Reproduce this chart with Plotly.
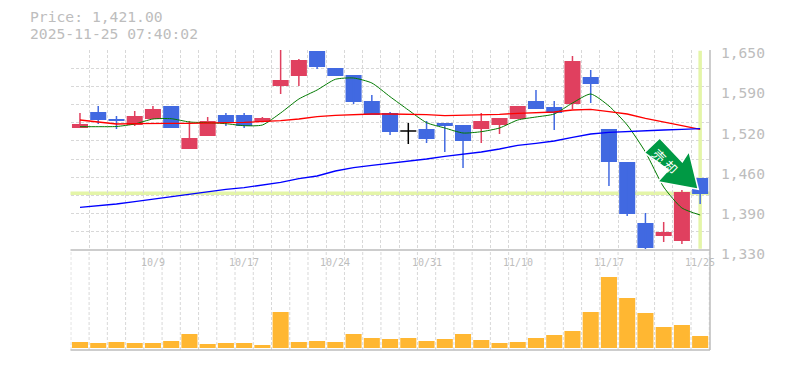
import plotly.graph_objects as go

def p(y):
    return round(1650 - (y - 50) * 1.6, 1)

colors = "r b b r r b r r b b r r r b b b b b k b b b r r r b b r b b b b r r b".split()
body_top = [124,112,119,116,109,106,138,121,115,115,118,80,60,51,68,75,101,113,131,129,123,125,121,118,106,101,107,61,77,129,162,223,232,192,178]
body_bot = [128,120,121,125,119,128,149,136,123,126,122,86,76,67,76,102,115,132,131,139,126,141,129,125,119,109,113,104,84,162,214,248,236,241,194]
wick_top = [113,106,116,111,106,106,121,117,113,113,117,50,59,51,68,75,95,112,123,121,123,125,113,118,106,90,101,56,70,129,162,213,222,190,178]
wick_bot = [128,124,129,126,119,128,149,136,126,128,122,94,86,69,76,104,115,135,144,143,152,168,143,134,119,109,130,109,103,186,216,249,242,244,204]
ma_short = [126.7,126.7,126.5,124,119,118.7,122,122.7,123.7,125.7,125,113,99,90,79.3,78,83,96.7,110,122.7,128,133,131.7,128,120,117,114,103,94,106,125,152,187,208,215]
ma_mid = [120,122,124,123.7,123.3,123.3,123.3,123.3,122.7,122.3,121.7,120.7,119,116.7,115.3,114.3,114,114,114.3,114.7,115.7,115.3,114.7,114.3,113.3,113,112,110,109.3,111.7,114,118.3,121.7,125.7,129.3]
ma_long = [207.3,206,204,201.7,199.3,196.7,194.7,192.3,189.3,187.7,185,182.3,178.7,176,171,167.7,165.3,163.3,161.3,159,156.3,154.3,152,149,145.3,143.3,141,137.3,134,132.3,131.3,130.7,130,129.3,128.7]
vol_top = [291,294,291,294,294,288,267,297,294,294,300,201,291,288,291,267,279,282,279,288,282,267,285,294,291,279,270,258,201,96,159,204,246,240,273]
volume = [(309 - t) * 1000 for t in vol_top]

date_idx = [4, 9, 14, 19, 24, 29, 34]
date_txt = ["10/9", "10/17", "10/24", "10/31", "11/10", "11/17", "11/25"]
price_ticks = [1650, 1586, 1522, 1458, 1394, 1330]
price_labels = ["1,650", "1,590", "1,520", "1,460", "1,390", "1,330"]
last_price = 1421
title1 = "Price: 1,421.00"
title2 = "2025-11-25 07:40:02"
signal = "売 却"

COL = {"r": "#e0405f", "b": "#4169e1", "k": "#000000"}
GREY = "#bdbdbd"
GRID = "#d8d8d8"
FONT = "DejaVu Sans Mono"
W, H = 785, 370
n = len(colors)
xs = list(range(n))

fig = go.Figure()
fig.add_trace(go.Bar(x=xs, y=volume, width=0.88, marker=dict(color="#ffb732", line_width=0), xaxis="x2", yaxis="y2", hoverinfo="skip"))
for c in "rbk":
    idx = [i for i in xs if colors[i] == c]
    wx, wy = [], []
    for i in idx:
        wx += [i, i, None]
        wy += [p(wick_top[i]), p(wick_bot[i]), None]
    fig.add_trace(go.Scatter(x=wx, y=wy, mode="lines", line=dict(color=COL[c], width=1.5), hoverinfo="skip"))
    if c == "k":
        dx, dy = [], []
        for i in idx:
            dx += [i - 0.44, i + 0.44, None]
            dy += [p(body_top[i]), p(body_top[i]), None]
        fig.add_trace(go.Scatter(x=dx, y=dy, mode="lines", line=dict(color=COL[c], width=1.5), hoverinfo="skip"))
    else:
        fig.add_trace(go.Bar(x=idx, y=[p(body_top[i]) - p(body_bot[i]) for i in idx], base=[p(body_bot[i]) for i in idx], width=0.88, marker=dict(color=COL[c], line_width=0), hoverinfo="skip"))
fig.add_trace(go.Scatter(x=xs, y=[p(v) for v in ma_short], mode="lines", line=dict(color="#007a00", width=1, shape="spline", smoothing=0.6), hoverinfo="skip"))
fig.add_trace(go.Scatter(x=xs, y=[p(v) for v in ma_mid], mode="lines", line=dict(color="#ff0000", width=1.3), hoverinfo="skip"))
fig.add_trace(go.Scatter(x=xs, y=[p(v) for v in ma_long], mode="lines", line=dict(color="#0000ff", width=1.3), hoverinfo="skip"))

L, R = 70.5 / W, 710 / W
T_P, B_P = 1 - 50 / H, 1 - 250 / H
B_V = 1 - 350 / H
grid = dict(showgrid=True, gridcolor=GRID, griddash="3px,2px", gridwidth=1)
xax = dict(domain=[L, R], range=[-0.52, 34.54], tick0=-0.5, dtick=1, showticklabels=False, ticks="", zeroline=False)
fig.update_layout(
    width=W, height=H, margin=dict(l=0, r=0, t=0, b=0), paper_bgcolor="white", plot_bgcolor="white",
    showlegend=False, barmode="overlay", dragmode=False,
    xaxis=dict(anchor="y", **xax, **grid),
    xaxis2=dict(anchor="y2", showgrid=False, **xax),
    yaxis=dict(domain=[B_P, T_P], range=[1330, 1650], tick0=1330, dtick=320 / 11, showticklabels=False, ticks="", zeroline=False, **grid),
    yaxis2=dict(domain=[B_V, B_P], range=[-6000, 294000], showgrid=False, showticklabels=False, ticks="", zeroline=False),
)
arrow_px = [(644.3,152.7),(659.7,138),(682.3,161.7),(689,151.3),(698.3,189.3),(657.7,181.7),(668.3,170)]
arrow_path = "M " + " L ".join(f"{x / W:.5f},{1 - y / H:.5f}" for x, y in arrow_px) + " Z"
shapes = [
    dict(type="line", xref="x2", yref="y2 domain", x0=i - 0.5, x1=i - 0.5, y0=0, y1=1, line=dict(color=GRID, width=1, dash="3px,2px"), layer="below")
    for i in range(n + 1)
]
shapes += [
    dict(type="line", xref="paper", yref="y", x0=L, x1=R, y0=last_price, y1=last_price, line=dict(color="#e4f5a8", width=3.5), layer="between"),
    dict(type="line", xref="x", yref="y", x0=n - 1, x1=n - 1, y0=1332, y1=1649, line=dict(color="#e4f5a8", width=3.5), layer="between"),
    dict(type="line", xref="paper", yref="paper", x0=L, x1=R, y0=B_P, y1=B_P, line=dict(color=GREY, width=1.5)),
    dict(type="line", xref="paper", yref="paper", x0=L, x1=R, y0=B_V, y1=B_V, line=dict(color=GREY, width=1.5)),
    dict(type="line", xref="paper", yref="paper", x0=R, x1=R, y0=B_V, y1=T_P, line=dict(color=GREY, width=1.5)),
    dict(type="path", xref="paper", yref="paper", path=arrow_path, fillcolor="#009944", line=dict(color="white", width=1.5)),
]
fig.update_layout(shapes=shapes)
ann = []
for v, t in zip(price_ticks, price_labels):
    ann.append(dict(x=R, xref="paper", y=v, yref="y", yshift=-3, xshift=9, text=t, showarrow=False, xanchor="left", yanchor="middle", font=dict(family=FONT, size=14.6, color=GREY)))
for i, t in zip(date_idx, date_txt):
    ann.append(dict(x=i, xref="x", y=B_P, yref="paper", yshift=-12, text=t, showarrow=False, xanchor="center", yanchor="middle", font=dict(family=FONT, size=10, color=GREY)))
ann.append(dict(x=28 / W, xref="paper", y=1 - 17 / H, yref="paper", text=title1, height=15, showarrow=False, xanchor="left", yanchor="middle", font=dict(family=FONT, size=14.7, color=GREY)))
ann.append(dict(x=28 / W, xref="paper", y=1 - 34 / H, yref="paper", text=title2, height=15, showarrow=False, xanchor="left", yanchor="middle", font=dict(family=FONT, size=14.7, color=GREY)))
ann.append(dict(x=665.5 / W, xref="paper", y=1 - 161 / H, yref="paper", text=signal, textangle=45, showarrow=False, xanchor="center", yanchor="middle", font=dict(family="Noto Sans CJK JP", size=13, color="white")))
fig.update_layout(annotations=ann)
fig.write_html("out.html", post_script="document.body.style.margin='0';", config=dict(displayModeBar=False))
